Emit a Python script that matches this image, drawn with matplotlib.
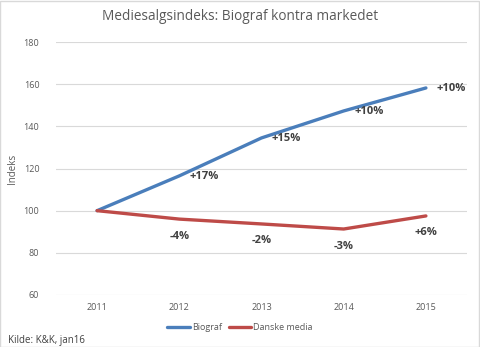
import matplotlib
matplotlib.use("Agg")
import matplotlib.pyplot as plt
from matplotlib.patches import Rectangle

years = ["2011", "2012", "2013", "2014", "2015"]
biograf = [100, 116.5, 134.5, 147.3, 158.2]
danske = [100, 96, 93.7, 91.3, 97.5]
biograf_labels = ["", "+17%", "+15%", "+10%", "+10%"]
danske_labels = ["", "-4%", "-2%", "-3%", "+6%"]
yticks = [60, 80, 100, 120, 140, 160, 180]

plt.rcParams['font.family'] = ['Open Sans', 'DejaVu Sans']
grey = '#595959'
blue = '#4A7EBB'
red = '#BE4B48'

fig = plt.figure(figsize=(4.8, 3.47), dpi=100)
ax = fig.add_axes([56/480, 1-295/347, 411/480, (295-42)/347])

x = list(range(len(years)))
ax.plot(x, biograf, color=blue, lw=2.4, solid_capstyle='round', label='Biograf', zorder=3)
ax.plot(x, danske, color=red, lw=2.4, solid_capstyle='round', label='Danske media', zorder=3)

for i, lab in enumerate(biograf_labels):
    if lab:
        ax.annotate(lab, (x[i], biograf[i]), xytext=(25, -1), textcoords='offset pixels',
                    ha='center', va='center', fontsize=8, fontweight='bold', color='#404040')
for i, lab in enumerate(danske_labels):
    if lab:
        ax.annotate(lab, (x[i], danske[i]), xytext=(0, -17), textcoords='offset pixels',
                    ha='center', va='center', fontsize=8, fontweight='bold', color='#404040')

ax.set_xlim(-0.5, len(years) - 0.5)
ax.set_ylim(60, 180)
ax.set_yticks(yticks)
ax.set_xticks(x)
ax.set_xticklabels(years)
ax.grid(axis='y', color='#D9D9D9', lw=0.8)
ax.set_axisbelow(True)
for s in ax.spines.values():
    s.set_visible(False)
ax.tick_params(length=0, colors=grey, labelsize=6.5)
ax.tick_params(axis='y', pad=12)
ax.tick_params(axis='x', pad=6)
ax.set_ylabel('Indeks', color=grey, fontsize=7, labelpad=4)

fig.text(0.5, 1-17/347, 'Mediesalgsindeks: Biograf kontra markedet', ha='center', va='center',
         fontsize=9.8, color=grey)
leg = fig.legend(loc='center', bbox_to_anchor=(0.5, 1-328/347), ncol=2, frameon=False,
                 fontsize=6.5, handlelength=2.5, columnspacing=0.8, handletextpad=0.2)
for t in leg.get_texts():
    t.set_color(grey)
fig.text(8/480, 1-340/347, 'Kilde: K&K, jan16', ha='left', va='center', fontsize=7, color='#404040')

fig.patches.append(Rectangle((0.001, 0.001), 0.997, 0.997, transform=fig.transFigure,
                             fill=False, edgecolor='#D9D9D9', lw=1))
fig.savefig('out.png', dpi=100)
